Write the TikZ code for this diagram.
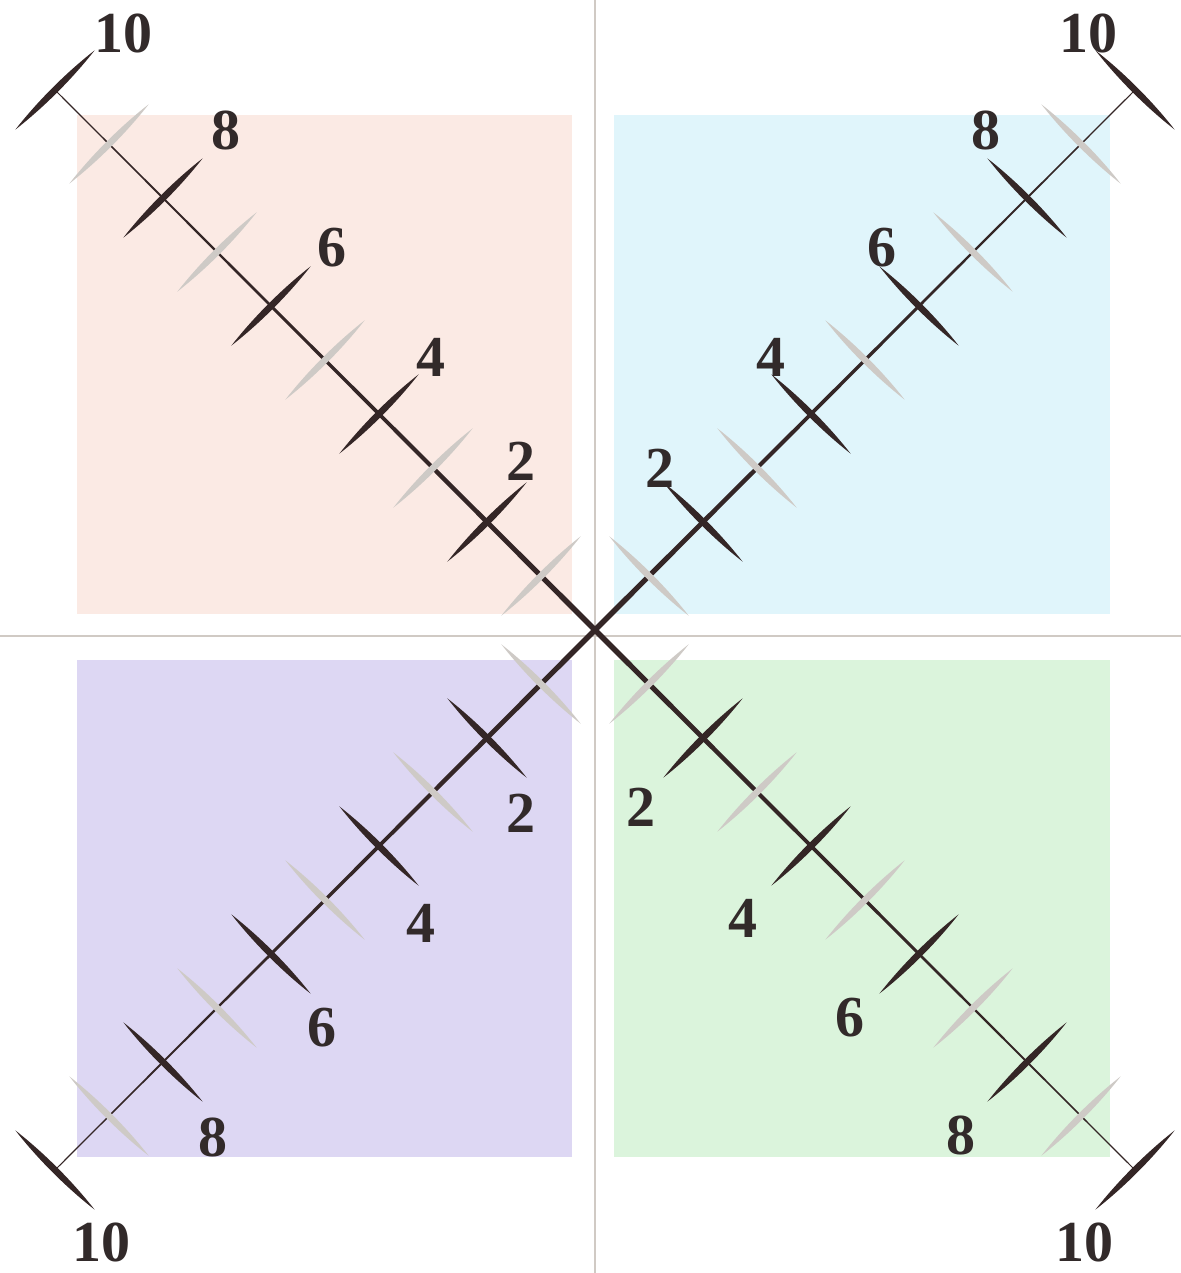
\documentclass[tikz,border=0pt]{standalone}
\usepackage{fontspec}
\setmainfont{Liberation Serif}
\usepackage{xcolor}
\definecolor{quadpink}{RGB}{251,234,228}
\definecolor{quadblue}{RGB}{224,245,251}
\definecolor{quadlilac}{RGB}{221,215,243}
\definecolor{quadgreen}{RGB}{219,244,220}
\definecolor{axisgray}{RGB}{208,202,196}
\definecolor{tickdark}{RGB}{52,38,38}
\definecolor{ticklight}{RGB}{206,202,198}
\definecolor{numtext}{RGB}{50,42,42}

\tikzset{
  numlbl/.style={text=numtext,font=\fontsize{29}{30}\selectfont\bfseries,inner sep=0pt},
  pics/lenstick/.style={code={
    \fill[#1] (-56,0) .. controls (-20,4.4) and (20,4.4) .. (56,0)
      .. controls (20,-4.4) and (-20,-4.4) .. cycle;
  }}
}

\begin{document}
\begin{tikzpicture}[x=0.5pt,y=-0.5pt]
  \useasboundingbox (0,0) rectangle (1181,1273);
  \fill[white] (0,0) rectangle (1181,1273);

  % --- quadrant squares ---
  \fill[quadpink]  (77,115) rectangle (572,614);
  \fill[quadblue]  (614,115) rectangle (1110,614);
  \fill[quadlilac] (77,660) rectangle (572,1157);
  \fill[quadgreen] (614,660) rectangle (1110,1157);

  % --- axes ---
  \draw[axisgray,line width=1pt] (595,0) -- (595,1273);
  \draw[axisgray,line width=1pt] (0,636) -- (1181,636);

  % --- diagonal arms with ticks ---
  \foreach \a in {45,135,225,315}{
    \begin{scope}[shift={(595,630)},rotate=\a]
      \fill[tickdark] (0,-2.8) -- (764,-0.5) -- (764,0.5) -- (0,2.8) -- cycle;
      \foreach \k in {1,3,...,9}{
        \pic[transform shape,rotate=90] at (\k*76.37,0) {lenstick=ticklight};
      }
      \foreach \k in {2,4,...,10}{
        \pic[transform shape,rotate=90] at (\k*76.37,0) {lenstick=tickdark};
      }
    \end{scope}
  }

  % --- numbers ---
  \foreach \q/\x/\y/\lbl in {tl/123/33/10, tl/226/130/8, tl/332/248/6, tl/431/357/4, tl/521/461/2,
                             tr/1088/33/10, tr/986/130/8, tr/882/248/6, tr/771/357/4, tr/660/468/2,
                             bl/521/813/2, bl/421/923/4, bl/322/1028/6, bl/213/1137/8, bl/101/1242/10,
                             br/641/807/2, br/743/918/4, br/850/1018/6, br/961/1135/8, br/1084/1242/10}{
    \node[numlbl] (\q\lbl) at (\x,\y) {\lbl};
  }

\end{tikzpicture}
\end{document}
